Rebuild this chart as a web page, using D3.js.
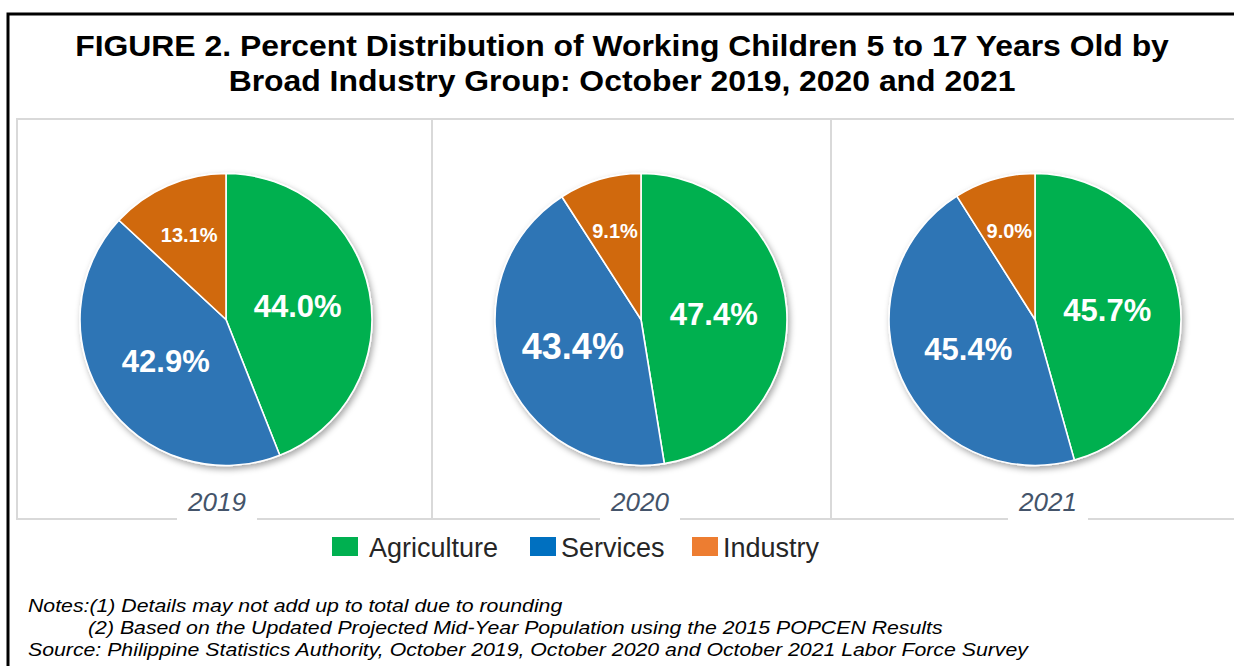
<!DOCTYPE html>
<html>
<head>
<meta charset="utf-8">
<script src="https://cdn.jsdelivr.net/npm/d3@7"></script>
<style>
  html, body { margin: 0; padding: 0; background: #fff; }
  svg { display: block; font-family: "Liberation Sans", Arial, sans-serif; }
</style>
</head>
<body>
<svg id="chart"></svg>
<script>
// data
var years = ["2019", "2020", "2021"];
var sectors = ["Agriculture", "Services", "Industry"];
var agriculture = [44.0, 47.4, 45.7];
var services = [42.9, 43.4, 45.4];
var industry = [13.1, 9.1, 9.0];

var titleLines = [
  "FIGURE 2. Percent Distribution of Working Children 5 to 17 Years Old by",
  "Broad Industry Group: October 2019, 2020 and 2021"
];
var noteLines = [
  "Notes:(1) Details may not add up to total due to rounding",
  "(2) Based on the Updated Projected Mid-Year Population using the 2015 POPCEN Results",
  "Source: Philippine Statistics Authority, October 2019, October 2020 and October 2021 Labor Force Survey"
];

var width = 1234,
  height = 666,
  radius = 146;

var pieColor = d3.scaleOrdinal().domain(sectors).range(["#00b050", "#2e74b5", "#d0690f"]);
var legendColor = d3.scaleOrdinal().domain(sectors).range(["#00b050", "#0070c0", "#ed7d31"]);

// panel layout
var panelEdges = [17, 432, 831, 1250];
var pieX = d3.scaleOrdinal().domain(years).range([226, 641, 1035]);
var yearX = d3.scaleOrdinal().domain(years).range([217, 640, 1048]);
var pieY = 319.5;

// the original's title and notes are stretched sideways
var titleStretch = 1.1;
var noteStretch = 1.12;
var noteX = [28, 88, 28];

var svg = d3.select("#chart")
  .attr("width", width)
  .attr("height", height);

var defs = svg.append("defs");
var shadow = defs.append("filter")
  .attr("id", "shadow")
  .attr("x", "-20%").attr("y", "-20%")
  .attr("width", "140%").attr("height", "140%");
shadow.append("feDropShadow")
  .attr("dx", 2).attr("dy", 3)
  .attr("stdDeviation", 3)
  .attr("flood-color", "#000")
  .attr("flood-opacity", 0.35);

// outer black frame (runs off the right and bottom)
svg.append("rect")
  .attr("x", 8).attr("y", 14)
  .attr("width", width + 20).attr("height", height + 20)
  .attr("fill", "#fff")
  .attr("stroke", "#000")
  .attr("stroke-width", 3);

// title
svg.append("g").selectAll("text")
    .data(titleLines)
  .enter().append("text")
    .attr("transform", function (d, i) {
      return "translate(622," + (56 + i * 35) + ") scale(" + titleStretch + ",1)";
    })
    .attr("text-anchor", "middle")
    .style("font-size", "29px")
    .style("font-weight", "bold")
    .style("fill", "#000")
    .text(function (d) { return d; });

// panels
var panelTop = 119, panelBottom = 519;
svg.append("g").selectAll("rect")
    .data(d3.pairs(panelEdges))
  .enter().append("rect")
    .attr("x", function (d) { return d[0]; })
    .attr("y", panelTop)
    .attr("width", function (d) { return d[1] - d[0]; })
    .attr("height", panelBottom - panelTop)
    .attr("fill", "#fff")
    .attr("stroke", "#d9d9d9")
    .attr("stroke-width", 2);

var pie = d3.pie().sort(null).value(function (d) { return d.value; });
var arc = d3.arc().innerRadius(0).outerRadius(radius);
// labels sit at the centroid; small slices get pushed further out
var labelArc = d3.arc().innerRadius(0).outerRadius(radius);
var smallLabelArc = d3.arc().innerRadius(0).outerRadius(radius * 1.26);

// one style tweak: the 2020 Services label is set larger in the original
function labelSize(year, d) {
  if (d.data.value < 15) return 20;
  if (year === "2020" && d.data.sector === "Services") return 36;
  return 31;
}

years.forEach(function (year, i) {
  var rows = [
    { sector: "Agriculture", value: agriculture[i] },
    { sector: "Services", value: services[i] },
    { sector: "Industry", value: industry[i] }
  ];
  var arcs = pie(rows);

  var g = svg.append("g")
    .attr("transform", "translate(" + pieX(year) + "," + pieY + ")");

  g.append("g")
      .attr("filter", "url(#shadow)")
    .selectAll("path")
      .data(arcs)
    .enter().append("path")
      .attr("d", arc)
      .attr("fill", function (d) { return pieColor(d.data.sector); })
      .attr("stroke", "#fff")
      .attr("stroke-width", 1.6)
      .attr("stroke-linejoin", "round");

  g.selectAll("text")
      .data(arcs)
    .enter().append("text")
      .attr("transform", function (d) {
        var c = (d.data.value < 15 ? smallLabelArc : labelArc).centroid(d);
        return "translate(" + c[0] + "," + c[1] + ")";
      })
      .attr("text-anchor", "middle")
      .attr("dy", "0.36em")
      .style("font-weight", "bold")
      .style("font-size", function (d) { return labelSize(year, d) + "px"; })
      .style("fill", "#fff")
      .text(function (d) { return d3.format(".1f")(d.data.value) + "%"; });

  // year caption sits on a white patch over the panel's bottom edge
  svg.append("rect")
    .attr("x", yearX(year) - 40)
    .attr("y", 490)
    .attr("width", 80)
    .attr("height", 32)
    .attr("fill", "#fff");
  svg.append("text")
    .attr("x", yearX(year))
    .attr("y", 511)
    .attr("text-anchor", "middle")
    .style("font-size", "26px")
    .style("font-style", "italic")
    .style("fill", "#44546a")
    .text(year);
});

// legend
var legendX = d3.scaleOrdinal().domain(sectors).range([332, 530, 692]);
var legend = svg.append("g").selectAll("g")
    .data(sectors)
  .enter().append("g")
    .attr("transform", function (d) { return "translate(" + legendX(d) + ",537)"; });
legend.append("rect")
  .attr("width", 26)
  .attr("height", 19)
  .attr("fill", function (d) { return legendColor(d); });
legend.append("text")
  .attr("x", function (d) { return d === "Agriculture" ? 37 : 31; })
  .attr("y", 20)
  .style("font-size", "27px")
  .style("fill", "#262626")
  .text(function (d) { return d; });

// notes
svg.append("g").selectAll("text")
    .data(noteLines)
  .enter().append("text")
    .attr("transform", function (d, i) {
      return "translate(" + noteX[i] + "," + (612 + i * 22) + ") scale(" + noteStretch + ",1)";
    })
    .style("font-size", "19px")
    .style("font-style", "italic")
    .style("fill", "#000")
    .text(function (d) { return d; });
</script>
</body>
</html>
